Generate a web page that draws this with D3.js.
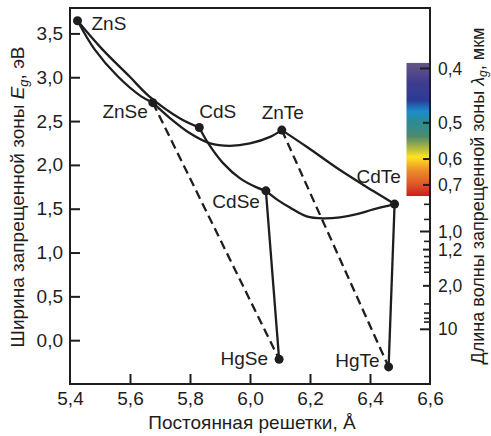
<!DOCTYPE html>
<html>
<head>
<meta charset="utf-8">
<script src="https://cdn.jsdelivr.net/npm/d3@7"></script>
<style>
  html, body { margin: 0; padding: 0; background: #fff; }
  svg { display: block; font-family: "Liberation Sans", Arial, sans-serif; }
</style>
</head>
<body>
<svg id="chart" width="491" height="436"></svg>
<script>
// ---------------- DATA ----------------
const compounds    = ["ZnS", "ZnSe", "CdS", "ZnTe", "CdSe", "CdTe", "HgSe", "HgTe"];
const latticeConst = [5.425, 5.676, 5.831, 6.106, 6.053, 6.482, 6.097, 6.462];
const bandGap      = [3.645, 2.710, 2.427, 2.397, 1.704, 1.553, -0.217, -0.305];

// solid alloy curves: points (lattice constant, band gap)
const curveZnS_ZnSe  = [[5.425,3.645],[5.482,3.318],[5.558,3.014],[5.636,2.785],[5.676,2.710]];
const curveZnS_CdS   = [[5.425,3.645],[5.508,3.318],[5.597,3.014],[5.663,2.785],[5.767,2.530],[5.831,2.427]];
const curveZnSe_ZnTe = [[5.676,2.710],[5.733,2.534],[5.800,2.360],[5.867,2.245],[5.933,2.218],[6.000,2.245],[6.067,2.320],[6.106,2.397]];
const curveCdS_CdSe  = [[5.831,2.427],[5.861,2.245],[5.911,2.017],[5.967,1.846],[6.022,1.743],[6.053,1.704]];
const curveCdSe_CdTe = [[6.053,1.704],[6.093,1.598],[6.133,1.513],[6.189,1.412],[6.244,1.389],[6.300,1.401],[6.356,1.438],[6.411,1.492],[6.482,1.553]];
const curveZnTe_CdTe = [[6.106,2.397],[6.189,2.207],[6.300,1.941],[6.411,1.701],[6.482,1.553]];
const curveCdSe_HgSe = [[6.053,1.704],[6.097,-0.217]];
const curveCdTe_HgTe = [[6.482,1.553],[6.462,-0.305]];
// dashed tie lines
const dashZnSe_HgSe  = [[5.676,2.710],[6.097,-0.217]];
const dashZnTe_HgTe  = [[6.106,2.397],[6.462,-0.305]];

// axes
const xTicks = [5.4, 5.6, 5.8, 6.0, 6.2, 6.4, 6.6];
const yTicks = [0.0, 0.5, 1.0, 1.5, 2.0, 2.5, 3.0, 3.5];
const wlLabeled = [0.4, 0.5, 0.6, 0.7, 1.0, 1.2, 2.0, 10];
const wlLabels  = ["0,4", "0,5", "0,6", "0,7", "1,0", "1,2", "2,0", "10"];
const wlMinor   = [0.8, 0.9, 1.1, 1.3, 1.4, 1.5, 1.6, 3, 4, 5, 6];
const hc = 1.24; // eV·µm

// spectrum colour bar (wavelength µm -> colour)
const spectrumWl     = [0.392, 0.423, 0.453, 0.475, 0.495, 0.515, 0.534, 0.566, 0.593, 0.610, 0.639, 0.693, 0.754];
const spectrumColors = ["#655683", "#3f3c8e", "#2b3b97", "#1b8ccd", "#2a8c96", "#3b8a84", "#4f8a6a", "#b0b840", "#fce51e", "#f7c520", "#ee8f2a", "#e05a28", "#c81e1e"];

// ---------------- LAYOUT ----------------
const L = 70, R = 430, T = 8, B = 384;
const svg = d3.select("#chart");
const ink = "#1e1e1e";
const fs = 19;

const x = d3.scaleLinear().domain([5.4, 6.6]).range([L, R]);
const y = d3.scaleLinear().domain([-0.5, 3.79]).range([B, T]);
const fmt = d => d3.format(".1f")(d).replace(".", ",");

// colour bar
const defs = svg.append("defs");
const barTop = y(hc / spectrumWl[0]), barBot = y(hc / spectrumWl[spectrumWl.length - 1]);
const grad = defs.append("linearGradient").attr("id", "spec")
  .attr("x1", 0).attr("x2", 0).attr("y1", barTop).attr("y2", barBot)
  .attr("gradientUnits", "userSpaceOnUse");
spectrumWl.forEach((w, i) => {
  grad.append("stop")
    .attr("offset", (y(hc / w) - barTop) / (barBot - barTop))
    .attr("stop-color", spectrumColors[i]);
});
svg.append("rect")
  .attr("x", R - 23.5).attr("y", barTop)
  .attr("width", 23.5).attr("height", barBot - barTop)
  .attr("fill", "url(#spec)");

// frame
svg.append("rect").attr("x", L).attr("y", T).attr("width", R - L).attr("height", B - T)
  .attr("fill", "none").attr("stroke", ink).attr("stroke-width", 2);

// bottom axis (ticks inward)
const xAxis = svg.append("g").attr("transform", `translate(0,${B})`)
  .call(d3.axisBottom(x).tickValues(xTicks).tickSizeInner(-10).tickSizeOuter(0).tickPadding(8).tickFormat(fmt));
xAxis.select(".domain").remove();
xAxis.selectAll(".tick line").attr("stroke", ink).attr("stroke-width", 2)
  .filter(d => d === 5.4 || d === 6.6).remove();
xAxis.selectAll("text").attr("font-size", fs).attr("fill", ink).attr("font-family", null);

// left axis
const yAxis = svg.append("g").attr("transform", `translate(${L},0)`)
  .call(d3.axisLeft(y).tickValues(yTicks).tickSizeInner(-10).tickSizeOuter(0).tickPadding(7).tickFormat(fmt));
yAxis.select(".domain").remove();
yAxis.selectAll(".tick line").attr("stroke", ink).attr("stroke-width", 2);
yAxis.selectAll("text").attr("font-size", fs).attr("fill", ink).attr("font-family", null);

// right axis (wavelength)
const rAxis = svg.append("g").attr("transform", `translate(${R},0)`);
rAxis.selectAll("line.maj").data(wlLabeled).join("line")
  .attr("x1", d => (d === 0.4 || d === 10 || d === 1.0) ? -10 : -7).attr("x2", 0)
  .attr("y1", d => y(hc / d)).attr("y2", d => y(hc / d))
  .attr("stroke", ink).attr("stroke-width", 2);
rAxis.selectAll("line.min").data(wlMinor).join("line")
  .attr("x1", -6).attr("x2", 0)
  .attr("y1", d => y(hc / d)).attr("y2", d => y(hc / d))
  .attr("stroke", ink).attr("stroke-width", 1.6);
rAxis.selectAll("text").data(wlLabeled).join("text")
  .attr("x", 8).attr("y", (d, i) => y(hc / d))
  .attr("dy", "0.35em")
  .attr("font-size", 17.5).attr("fill", ink)
  .text((d, i) => wlLabels[i]);

// lines
const line = d3.line().x(d => x(d[0])).y(d => y(d[1])).curve(d3.curveCatmullRom.alpha(0.5));
const solid = [curveZnS_ZnSe, curveZnS_CdS, curveZnSe_ZnTe, curveCdS_CdSe, curveCdSe_CdTe, curveZnTe_CdTe, curveCdSe_HgSe, curveCdTe_HgTe];
svg.append("g").selectAll("path").data(solid).join("path")
  .attr("d", line).attr("fill", "none").attr("stroke", ink).attr("stroke-width", 2.3);
svg.append("g").selectAll("path").data([dashZnSe_HgSe, dashZnTe_HgTe]).join("path")
  .attr("d", d3.line().x(d => x(d[0])).y(d => y(d[1])))
  .attr("fill", "none").attr("stroke", ink).attr("stroke-width", 2.3)
  .attr("stroke-dasharray", "9,5");

// points
const pts = compounds.map((c, i) => ({ name: c, a: latticeConst[i], e: bandGap[i] }));
svg.append("g").selectAll("circle").data(pts).join("circle")
  .attr("cx", d => x(d.a)).attr("cy", d => y(d.e)).attr("r", 4.5).attr("fill", ink);

// compound labels (offset styling only)
const labelStyle = {
  ZnS:  { dx: 14,  dy: 9,  anchor: "start" },
  ZnSe: { dx: -5,  dy: 15, anchor: "end" },
  CdS:  { dx: 0,   dy: -9, anchor: "start" },
  ZnTe: { dx: 1,   dy: -11, anchor: "middle" },
  CdSe: { dx: -6,  dy: 17, anchor: "end" },
  CdTe: { dx: -16, dy: -21, anchor: "middle" },
  HgSe: { dx: -11, dy: 6,  anchor: "end" },
  HgTe: { dx: -9,  dy: 0,  anchor: "end" }
};
svg.append("g").selectAll("text").data(pts).join("text")
  .attr("x", d => x(d.a) + labelStyle[d.name].dx)
  .attr("y", d => y(d.e) + labelStyle[d.name].dy)
  .attr("text-anchor", d => labelStyle[d.name].anchor)
  .attr("font-size", fs).attr("fill", ink)
  .text(d => d.name);

// axis titles
svg.append("text").attr("x", (L + R) / 2 + 2).attr("y", 429)
  .attr("text-anchor", "middle").attr("font-size", fs).attr("fill", ink)
  .text("Постоянная решетки, Å");

const lt = svg.append("text").attr("transform", "translate(24,197) rotate(-90)")
  .attr("text-anchor", "middle").attr("font-size", fs).attr("fill", ink);
lt.append("tspan").text("Ширина запрещенной зоны ");
lt.append("tspan").attr("font-style", "italic").text("E");
lt.append("tspan").attr("font-style", "italic").attr("font-size", 13).attr("dy", 4).text("g");
lt.append("tspan").attr("dy", -4).text(", эВ");

const rt = svg.append("text").attr("transform", "translate(484,196) rotate(-90)")
  .attr("text-anchor", "middle").attr("font-size", 18).attr("fill", ink);
rt.append("tspan").text("Длина волны запрещенной зоны ");
rt.append("tspan").attr("font-style", "italic").text("λ");
rt.append("tspan").attr("font-style", "italic").attr("font-size", 12).attr("dy", 3).text("g");
rt.append("tspan").attr("dy", -3).text(", мкм");
</script>
</body>
</html>
